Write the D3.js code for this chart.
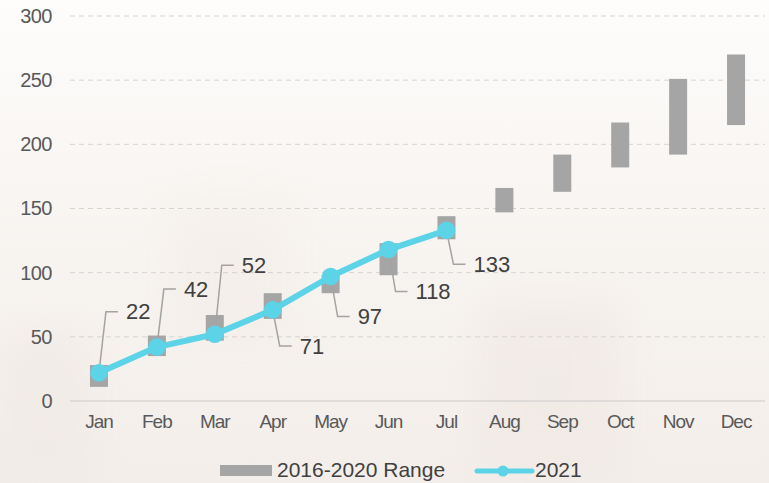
<!DOCTYPE html>
<html>
<head>
<meta charset="utf-8">
<script src="https://cdn.jsdelivr.net/npm/d3@7/dist/d3.min.js"></script>
<style>
  html, body { margin: 0; padding: 0; background: #f7f3ef; }
  svg { display: block; font-family: "Liberation Sans", Arial, sans-serif; }
</style>
</head>
<body>
<svg id="chart" width="769" height="483"></svg>
<script>
// ---- data ----
const months = ["Jan","Feb","Mar","Apr","May","Jun","Jul","Aug","Sep","Oct","Nov","Dec"];
const rangeLow  = [11, 35, 47, 64, 84, 98, 126, 147, 163, 182, 192, 215];
const rangeHigh = [28, 51, 67, 84, 98, 123, 144, 166, 192, 217, 251, 270];
const values2021 = [22, 42, 52, 71, 97, 118, 133];
const yTicks = [0, 50, 100, 150, 200, 250, 300];
const seriesNames = ["2016-2020 Range", "2021"];
// label placement (layout only): vertical offset in px from the point
const labelDy = [-61, -58, -69, 36, 40, 42, 34];

// ---- layout ----
const W = 769, H = 483;
const plotLeft = 70, plotRight = 765, plotTop = 16, plotBottom = 401;
const svg = d3.select("#chart");

// background
const defs = svg.append("defs");
const lg = defs.append("linearGradient").attr("id","bg").attr("x1",0).attr("y1",0).attr("x2",0).attr("y2",1);
lg.append("stop").attr("offset","0%").attr("stop-color","#fefdfc");
lg.append("stop").attr("offset","35%").attr("stop-color","#f9f6f3");
lg.append("stop").attr("offset","100%").attr("stop-color","#f3eeea");
svg.append("rect").attr("width",W).attr("height",H).attr("fill","url(#bg)");
const blur = defs.append("filter").attr("id","blur").attr("x","-50%").attr("y","-50%").attr("width","200%").attr("height","200%");
blur.append("feGaussianBlur").attr("stdDeviation",20);
const bgShapes = svg.append("g").attr("filter","url(#blur)").attr("opacity",0.35);
bgShapes.append("rect").attr("x",480).attr("y",300).attr("width",140).attr("height",170).attr("fill","#ece2dc");
bgShapes.append("rect").attr("x",170).attr("y",200).attr("width",120).attr("height",140).attr("fill","#efe8e2");
bgShapes.append("rect").attr("x",0).attr("y",330).attr("width",90).attr("height",150).attr("fill","#ebe3dd");

const x = d3.scaleBand().domain(months).range([plotLeft, plotRight]);
const y = d3.scaleLinear().domain([0, 300]).range([plotBottom, plotTop]);
const cx = m => x(m) + x.bandwidth() / 2;

// gridlines
svg.append("g").selectAll("line").data(yTicks.filter(t => t > 0)).join("line")
  .attr("x1", plotLeft).attr("x2", plotRight)
  .attr("y1", d => y(d)).attr("y2", d => y(d))
  .attr("stroke", "#d6d3d0").attr("stroke-width", 1).attr("stroke-dasharray", "5,4");
svg.append("line").attr("x1", plotLeft).attr("x2", plotRight).attr("y1", y(0)).attr("y2", y(0))
  .attr("stroke", "#d9d6d3").attr("stroke-width", 1.5);

// y axis labels
const yAxis = d3.axisLeft(y).tickValues(yTicks).tickSize(0).tickPadding(18);
const gy = svg.append("g").attr("transform", `translate(${plotLeft},0)`).call(yAxis);
gy.select(".domain").remove();
gy.selectAll("text").attr("font-size", 20).attr("fill", "#595959")
  .attr("font-family", "'Liberation Sans', Arial, sans-serif").attr("letter-spacing", "-0.5px");

// x axis labels
const xAxis = d3.axisBottom(x).tickSize(0).tickPadding(14);
const gx = svg.append("g").attr("transform", `translate(0,${plotBottom})`).call(xAxis);
gx.select(".domain").remove();
gx.selectAll("text").attr("font-size", 19).attr("fill", "#595959")
  .attr("font-family", "'Liberation Sans', Arial, sans-serif").attr("letter-spacing", "-1px");

// range bars
const barW = 18;
svg.append("g").selectAll("rect").data(months).join("rect")
  .attr("x", (m) => cx(m) - barW / 2)
  .attr("width", barW)
  .attr("y", (m, i) => y(rangeHigh[i]))
  .attr("height", (m, i) => y(rangeLow[i]) - y(rangeHigh[i]))
  .attr("fill", "#a5a5a5");

// leader lines
const pts = values2021.map((v, i) => ({ m: months[i], v, px: cx(months[i]), py: y(values2021[i]), dy: labelDy[i] }));
svg.append("g").selectAll("path").data(pts).join("path")
  .attr("d", d => `M${d.px},${d.py} L${d.px + 7},${d.py + d.dy} L${d.px + 19},${d.py + d.dy}`)
  .attr("fill", "none").attr("stroke", "#a3a3a3").attr("stroke-width", 1.5);

// 2021 line
const lineColor = "#5cd3e6";
svg.append("path").datum(pts)
  .attr("d", d3.line().x(d => d.px).y(d => d.py))
  .attr("fill", "none").attr("stroke", lineColor).attr("stroke-width", 6)
  .attr("stroke-linejoin", "round").attr("stroke-linecap", "round");
svg.append("g").selectAll("circle").data(pts).join("circle")
  .attr("cx", d => d.px).attr("cy", d => d.py).attr("r", 8.8).attr("fill", lineColor);

// data labels
svg.append("g").selectAll("text").data(pts).join("text")
  .attr("x", d => d.px + 27).attr("y", d => d.py + d.dy)
  .attr("dy", "0.35em")
  .attr("font-size", 22).attr("fill", "#404040")
  .text(d => d.v);

// legend
const lgG = svg.append("g");
lgG.append("rect").attr("x", 220).attr("y", 465).attr("width", 52).attr("height", 11).attr("fill", "#a5a5a5");
lgG.append("text").attr("x", 277).attr("y", 477).attr("font-size", 21).attr("fill", "#404040").text(seriesNames[0]);
lgG.append("line").attr("x1", 477).attr("x2", 532).attr("y1", 471).attr("y2", 471)
  .attr("stroke", lineColor).attr("stroke-width", 5).attr("stroke-linecap", "round");
lgG.append("circle").attr("cx", 503).attr("cy", 471).attr("r", 5.5).attr("fill", lineColor);
lgG.append("text").attr("x", 535).attr("y", 477).attr("font-size", 21).attr("fill", "#404040").text(seriesNames[1]);
</script>
</body>
</html>
